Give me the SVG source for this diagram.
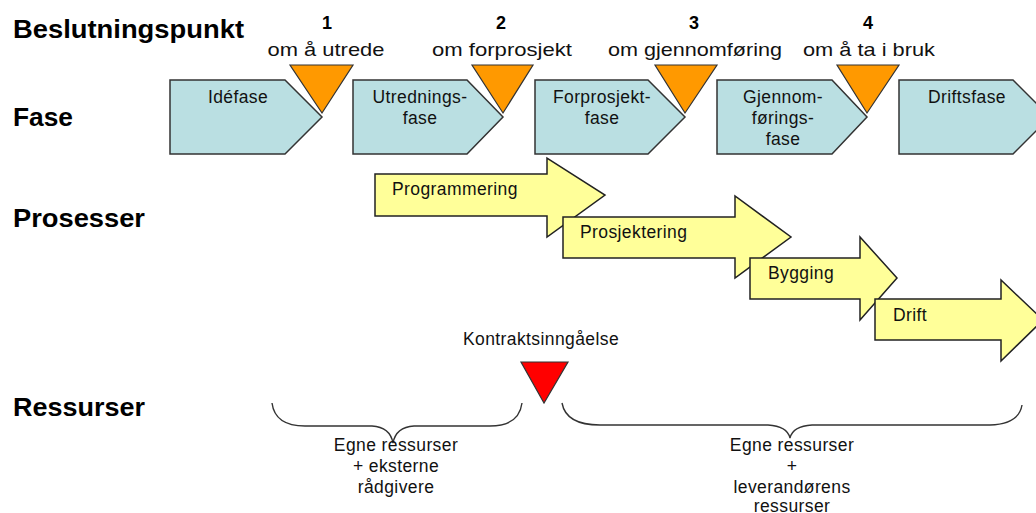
<svg xmlns="http://www.w3.org/2000/svg" width="1036" height="513" viewBox="0 0 1036 513">
<style>
.h{font-family:"Liberation Sans",Arial,sans-serif;font-weight:bold;font-size:25px;fill:#000}
.t{font-family:"Liberation Sans",Arial,sans-serif;font-size:17.5px;letter-spacing:0.4px;fill:#111}
.n{font-family:"Liberation Sans",Arial,sans-serif;font-weight:bold;font-size:18px;fill:#000;text-anchor:middle}
.l{font-family:"Liberation Sans",Arial,sans-serif;font-size:19px;fill:#111;text-anchor:middle}
.c{text-anchor:middle}
.phase{fill:#badfe2;stroke:#333;stroke-width:1.5;stroke-linejoin:miter}
.proc{fill:#ffff99;stroke:#222;stroke-width:1.5}
.dec{fill:#ff9900;stroke:#333;stroke-width:1.2}
.red{fill:#ff0000;stroke:#333;stroke-width:1.2}
.brace{fill:none;stroke:#333;stroke-width:1.4}
</style>
<rect width="1036" height="513" fill="#fff"/>
<g id="headings">
<text class="h" x="13" y="38" textLength="231" lengthAdjust="spacingAndGlyphs">Beslutningspunkt</text>
<text class="h" x="13" y="126" textLength="60" lengthAdjust="spacingAndGlyphs">Fase</text>
<text class="h" x="13" y="227" textLength="132" lengthAdjust="spacingAndGlyphs">Prosesser</text>
<text class="h" x="13" y="416" textLength="132" lengthAdjust="spacingAndGlyphs">Ressurser</text>
</g>
<g id="dp1">
<text class="n" x="327" y="29">1</text>
<text class="l" x="326" y="56" textLength="117" lengthAdjust="spacingAndGlyphs">om å utrede</text>
</g>
<g id="dp2">
<text class="n" x="501" y="29">2</text>
<text class="l" x="502" y="56" textLength="140" lengthAdjust="spacingAndGlyphs">om forprosjekt</text>
</g>
<g id="dp3">
<text class="n" x="694" y="29">3</text>
<text class="l" x="695" y="56" textLength="174" lengthAdjust="spacingAndGlyphs">om gjennomføring</text>
</g>
<g id="dp4">
<text class="n" x="868" y="29">4</text>
<text class="l" x="869" y="56" textLength="132" lengthAdjust="spacingAndGlyphs">om å ta i bruk</text>
</g>
<g id="phase1">
<polygon class="phase" points="170,80 285,80 322,117 285,154 170,154"/>
<text class="t c" x="238" y="103">Idéfase</text>
</g>
<g id="phase2">
<polygon class="phase" points="353,80 467,80 503,117 467,154 353,154"/>
<text class="t c" x="420" y="103">Utrednings-</text>
<text class="t c" x="420" y="124">fase</text>
</g>
<g id="phase3">
<polygon class="phase" points="535,80 648,80 685,117 648,154 535,154"/>
<text class="t c" x="602" y="103">Forprosjekt-</text>
<text class="t c" x="602" y="124">fase</text>
</g>
<g id="phase4">
<polygon class="phase" points="717,80 832,80 867,117 832,154 717,154"/>
<text class="t c" x="783" y="103">Gjennom-</text>
<text class="t c" x="783" y="124">førings-</text>
<text class="t c" x="783" y="145">fase</text>
</g>
<g id="phase5">
<polygon class="phase" points="899,80 1013,80 1050,117 1013,154 899,154"/>
<text class="t c" x="967" y="103">Driftsfase</text>
</g>
<g id="triangles">
<polygon class="dec" points="290,65 353,65 322,113"/>
<polygon class="dec" points="472,65 533,65 503,113"/>
<polygon class="dec" points="655,65 717,65 685,113"/>
<polygon class="dec" points="837,65 899,65 867,113"/>
</g>
<g id="proc1">
<polygon class="proc" points="375,174 547,174 547,158 605,195 547,237 547,216 375,216"/>
<text class="t" x="392" y="195">Programmering</text>
</g>
<g id="proc2">
<polygon class="proc" points="563,217 735,217 735,196 791,237 735,278 735,258 563,258"/>
<text class="t" x="580" y="238">Prosjektering</text>
</g>
<g id="proc3">
<polygon class="proc" points="750,258 860,258 860,237 897,278 860,320 860,299 750,299"/>
<text class="t" x="768" y="279">Bygging</text>
</g>
<g id="proc4">
<polygon class="proc" points="875,299 1001,299 1001,280 1043,320 1001,361 1001,340 875,340"/>
<text class="t" x="893" y="321">Drift</text>
</g>
<g id="contract">
<text class="t c" x="541" y="345">Kontraktsinngåelse</text>
<polygon class="red" points="521,362 568,362 544,403"/>
</g>
<g id="connectors">
<path class="brace" d="M272,403 Q275,426 305,426 L372,426 Q390,427 393,443 Q396,427 414,426 L490,426 Q519,426 522,403"/>
<path class="brace" d="M562,403 Q566,425 600,425 L768,425 Q787,426 790,438 Q793,426 812,425 L990,425 Q1019,424 1022,405"/>
</g>
<g id="res-left">
<text class="t c" x="396" y="451">Egne ressurser</text>
<text class="t c" x="396" y="472">+ eksterne</text>
<text class="t c" x="396" y="493">rådgivere</text>
</g>
<g id="res-right">
<text class="t c" x="792" y="451">Egne ressurser</text>
<text class="t c" x="792" y="472">+</text>
<text class="t c" x="792" y="493">leverandørens</text>
<text class="t c" x="792" y="512">ressurser</text>
</g>
</svg>
